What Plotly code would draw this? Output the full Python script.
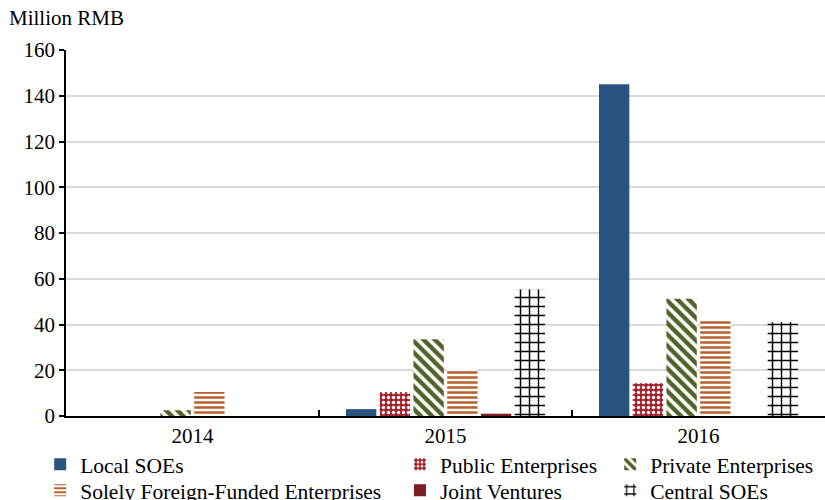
import plotly.graph_objects as go

years = ["2014", "2015", "2016"]
local_soes = [0, 3, 145]
public_ent = [0, 10.5, 14.3]
private_ent = [2.5, 33.5, 51.3]
foreign_ent = [10.5, 20.5, 42]
joint_ventures = [0, 1, 0]
central_soes = [0, 55.3, 41]

series = [
    ("Local SOEs", local_soes, dict(color="#2B5380", line=dict(width=0)), "legend"),
    ("Public Enterprises", public_ent, dict(color="#A5232B", line=dict(width=0),
        pattern=dict(shape=".", fgcolor="white", bgcolor="#A5232B", fgopacity=1, size=5, solidity=0.35)), "legend2"),
    ("Private Enterprises", private_ent, dict(color="white", line=dict(width=0),
        pattern=dict(shape="\\", fgcolor="#4F6228", bgcolor="white", fgopacity=1, size=8, solidity=0.55)), "legend3"),
    ("Solely Foreign-Funded Enterprises", foreign_ent, dict(color="white", line=dict(width=0),
        pattern=dict(shape="-", fgcolor="#B8602A", bgcolor="white", fgopacity=1, size=5, solidity=0.5)), "legend4"),
    ("Joint Ventures", joint_ventures, dict(color="#7B1E22", line=dict(width=0)), "legend5"),
    ("Central SOEs", central_soes, dict(color="white", line=dict(width=0),
        pattern=dict(shape="+", fgcolor="black", bgcolor="white", fgopacity=1, size=9, solidity=0.3)), "legend6"),
]

fig = go.Figure()
for name, vals, marker, lg in series:
    fig.add_trace(go.Bar(x=years, y=vals, name=name, marker=marker, legend=lg))

font = "Liberation Serif, Times New Roman, serif"
FS = 21
leg_common = dict(orientation="v", yanchor="top", xanchor="left",
                  font=dict(size=21.5, family=font, color="black"),
                  bgcolor="rgba(0,0,0,0)", tracegroupgap=0, itemwidth=30)
row1, row2 = -0.076, -0.147
col1, col2, col3 = -0.034, 0.44, 0.717
fig.update_layout(
    width=825, height=500,
    margin=dict(l=66, r=0, t=50, b=84, autoexpand=False),
    paper_bgcolor="white", plot_bgcolor="white",
    font=dict(family=font, size=FS, color="black"),
    barmode="group", bargap=0.2, bargroupgap=0.1,
    showlegend=True,
    legend=dict(x=col1, y=row1, **leg_common),
    legend2=dict(x=col2, y=row1, **leg_common),
    legend3=dict(x=col3, y=row1, **leg_common),
    legend4=dict(x=col1, y=row2, **leg_common),
    legend5=dict(x=col2, y=row2, **leg_common),
    legend6=dict(x=col3, y=row2, **leg_common),
    xaxis=dict(showline=True, linecolor="black", linewidth=1.5, ticks="inside", tickson="boundaries",
               ticklen=6, tickcolor="black", tickwidth=1.5, tickfont=dict(size=FS)),
    yaxis=dict(range=[0, 160], dtick=20, showline=True, linecolor="black", linewidth=1.5,
               ticks="outside", ticklen=5, tickcolor="black", tickwidth=1.5, showgrid=True, gridcolor="#D9D9D9",
               gridwidth=1.5, tickfont=dict(size=FS), zeroline=False),
    annotations=[dict(text="Million RMB", xref="paper", yref="paper", x=-0.078, y=1.05,
                      xanchor="left", yanchor="bottom", showarrow=False, font=dict(size=FS))],
)
fig.write_html("out.html")
